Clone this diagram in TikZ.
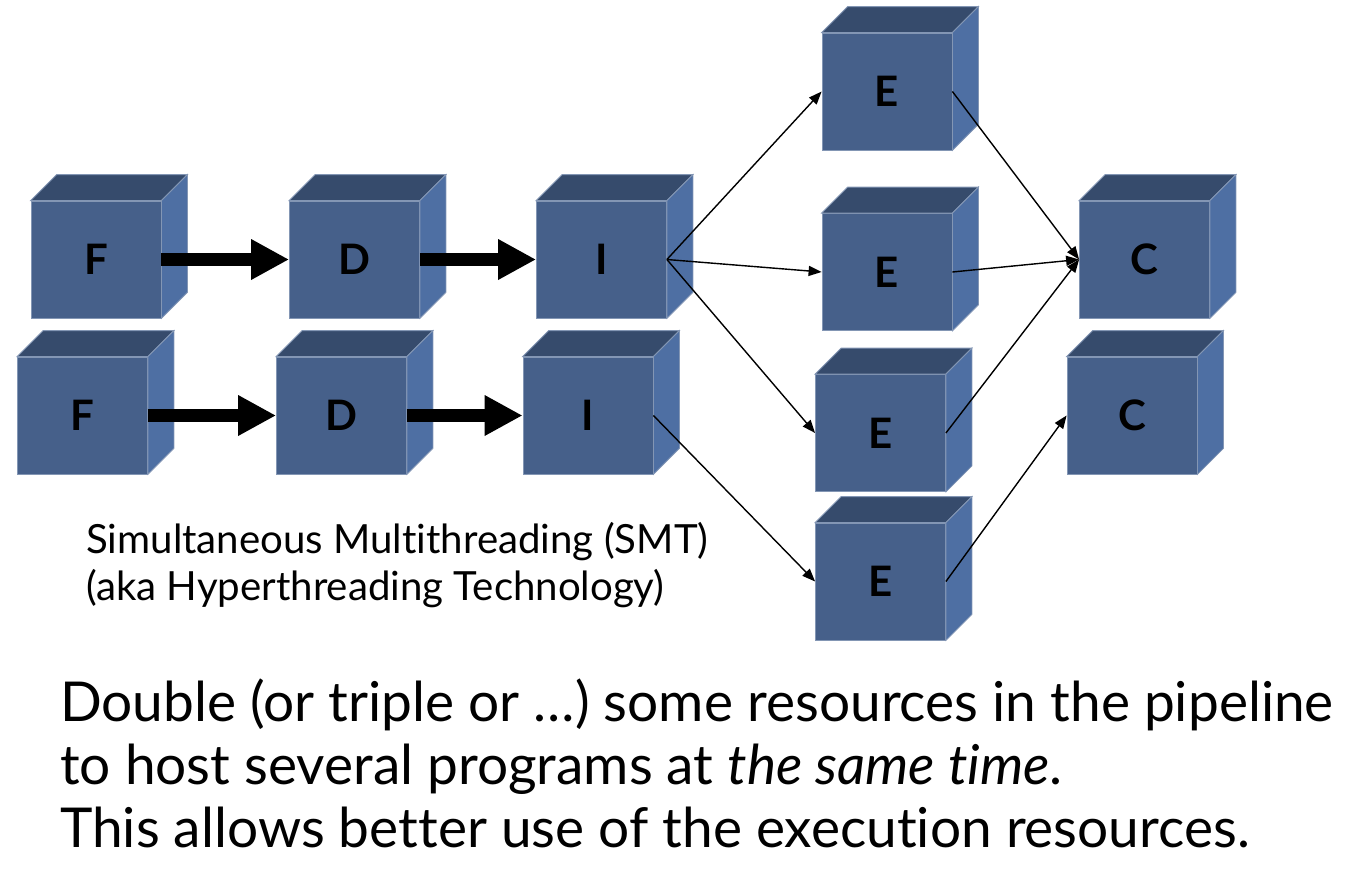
\documentclass[tikz,border=0pt]{standalone}
\usepackage{fontspec}
\setmainfont{Lato}[Ligatures={NoCommon,NoContextual}]
\usetikzlibrary{arrows.meta}

\definecolor{cubefront}{HTML}{46608A}
\definecolor{cubetop}{HTML}{364B6C}
\definecolor{cubeside}{HTML}{4E6FA3}
\definecolor{cubeedge}{HTML}{8396B4}

\begin{document}
\begin{tikzpicture}[x=1pt, y=-1pt,
    cube/.style={fill=cubefront, draw=cubeedge, line width=0.8pt, minimum width=130pt, minimum height=117pt, inner sep=0pt, font=\fontsize{42}{42}\selectfont\bfseries},
    bigarrow/.style={line width=13pt, -{Triangle[length=38pt, width=38pt]}},
    thinarrow/.style={line width=1.4pt, -{Triangle[length=13pt, width=10pt]}}]
    \useasboundingbox (0,0) rectangle (1352,870);

    % First thread
    \node[cube] (f1) at (96, 259.5) {F};
    \node[cube] (d1) at (354.5, 259.5) {D};
    \node[cube] (i1) at (601.5, 259.5) {I};

    % Second thread
    \node[cube] (f2) at (82.5, 415.5) {F};
    \node[cube] (d2) at (341.5, 415.5) {D};
    \node[cube] (i2) at (588, 415.5) {I};

    % Execution units
    \node[cube] (e1) at (887, 91.5) {E};
    \node[cube] (e2) at (887, 272) {E};
    \node[cube] (e3) at (880.5, 433) {E};
    \node[cube] (e4) at (880.5, 581.5) {E};

    % Commit
    \node[cube] (c1) at (1144.5, 259.5) {C};
    \node[cube] (c2) at (1132, 415.5) {C};

    % Top and side faces
    \foreach \c in {f1,d1,i1,f2,d2,i2,e1,e2,e3,e4,c1,c2} {
        \filldraw[fill=cubetop, draw=cubeedge, line width=0.8pt] (\c.north west) -- ++(26,-26) -- ([shift={(26,-26)}]\c.north east) -- (\c.north east) -- cycle;
        \filldraw[fill=cubeside, draw=cubeedge, line width=0.8pt] (\c.north east) -- ++(26,-26) -- ([shift={(26,-26)}]\c.south east) -- (\c.south east) -- cycle;
    }

    % Pipeline arrows
    \draw[bigarrow] (f1.east) -- (d1.west);
    \draw[bigarrow] (d1.east) -- (i1.west);
    \draw[bigarrow] (f2.east) -- (d2.west);
    \draw[bigarrow] (d2.east) -- (i2.west);

    % Issue to execute
    \draw[thinarrow] (i1.east) -- (e1.west);
    \draw[thinarrow] (i1.east) -- (e2.west);
    \draw[thinarrow] (i1.east) -- (e3.west);
    \draw[thinarrow] (i2.east) -- (e4.west);

    % Execute to commit
    \draw[thinarrow] (e1.east) -- (c1.west);
    \draw[thinarrow] (e2.east) -- (c1.west);
    \draw[thinarrow] (e3.east) -- (c1.west);
    \draw[thinarrow] (e4.east) -- (c2.west);

    % Captions
    \node[anchor=north west, inner sep=0pt, align=left, font=\fontsize{40.2}{47}\selectfont] (smt) at (86, 522) {Simultaneous Multithreading (SMT)\\(aka Hyperthreading Technology)};
    \node[anchor=north west, inner sep=0pt, align=left, font=\fontsize{55}{63}\selectfont] (note) at (60, 679) {Double (or triple or …) some resources in the pipeline\\to host several programs at \textit{the same time}.\\This allows better use of the execution resources.};
\end{tikzpicture}
\end{document}
